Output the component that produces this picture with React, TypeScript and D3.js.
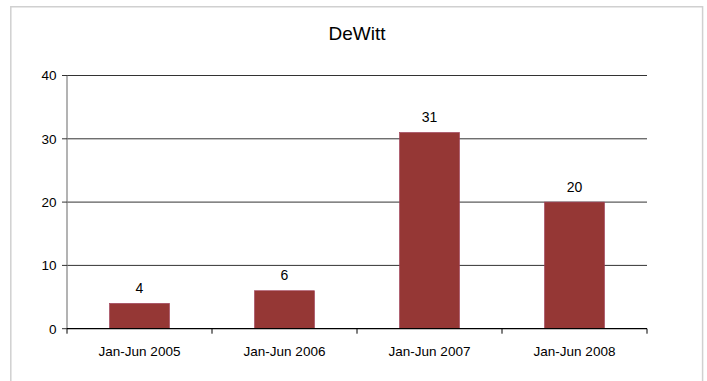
import React from "react";
import * as d3 from "d3";

const categories = ["Jan-Jun 2005", "Jan-Jun 2006", "Jan-Jun 2007", "Jan-Jun 2008"];
const values = [4, 6, 31, 20];
const yTicks = [0, 10, 20, 30, 40];
const title = "DeWitt";

const W = 707;
const H = 381;
const plot = { left: 67, right: 647, top: 75.5, bottom: 328.7 };
const font = "Arial, 'Liberation Sans', sans-serif";

export default function App() {
  const x = d3
    .scaleBand<string>()
    .domain(categories)
    .range([plot.left, plot.right])
    .paddingInner(0.586)
    .paddingOuter(0.293);
  const band = d3.scaleBand<string>().domain(categories).range([plot.left, plot.right]);
  const y = d3.scaleLinear().domain([0, 40]).range([plot.bottom, plot.top]);

  return (
    <svg
      width={W}
      height={H}
      style={{ position: "absolute", left: 0, top: 0 }}
      fontFamily={font}
    >
      <rect x={0} y={0} width={W} height={H} fill="#fff" />
      {/* chart frame */}
      <path
        d={`M10.8,${H} V6.8 H702.6 V${H}`}
        fill="none"
        stroke="#d0d0d0"
        strokeWidth={1.5}
      />
      <text x={357} y={40} textAnchor="middle" fontSize={19} fill="#000">
        {title}
      </text>
      {/* gridlines */}
      {yTicks.slice(1).map((t) => (
        <line
          key={t}
          x1={plot.left}
          x2={plot.right}
          y1={y(t)}
          y2={y(t)}
          stroke="#333"
          strokeWidth={1}
        />
      ))}
      {/* bars */}
      {values.map((v, i) => (
        <rect
          key={categories[i]}
          x={x(categories[i])}
          y={y(v)}
          width={x.bandwidth()}
          height={y(0) - y(v)}
          fill="#953735"
          stroke="#a0405a"
          strokeWidth={0.6}
        />
      ))}
      {/* value labels */}
      {values.map((v, i) => (
        <text
          key={"v" + i}
          x={(x(categories[i]) as number) + x.bandwidth() / 2}
          y={y(v) - 10.5}
          textAnchor="middle"
          fontSize={14}
          fill="#000"
        >
          {v}
        </text>
      ))}
      {/* y axis */}
      <line x1={plot.left} x2={plot.left} y1={plot.top} y2={plot.bottom} stroke="#808080" strokeWidth={1.2} />
      {yTicks.map((t) => (
        <g key={"yt" + t}>
          <line x1={plot.left - 5} x2={plot.left} y1={y(t)} y2={y(t)} stroke="#333" />
          <text x={plot.left - 10.5} y={y(t) + 4.8} textAnchor="end" fontSize={13.5} fill="#000">
            {t}
          </text>
        </g>
      ))}
      {/* x axis */}
      <line x1={plot.left} x2={plot.right} y1={plot.bottom} y2={plot.bottom} stroke="#000" strokeWidth={1.2} />
      {[...categories.map((c) => band(c) as number), plot.right].map((px, i) => (
        <line key={"xt" + i} x1={px} x2={px} y1={plot.bottom} y2={plot.bottom + 5} stroke="#000" />
      ))}
      {categories.map((c) => (
        <text
          key={"xl" + c}
          x={(band(c) as number) + band.bandwidth() / 2}
          y={356}
          textAnchor="middle"
          fontSize={13.5}
          fill="#000"
        >
          {c}
        </text>
      ))}
    </svg>
  );
}
